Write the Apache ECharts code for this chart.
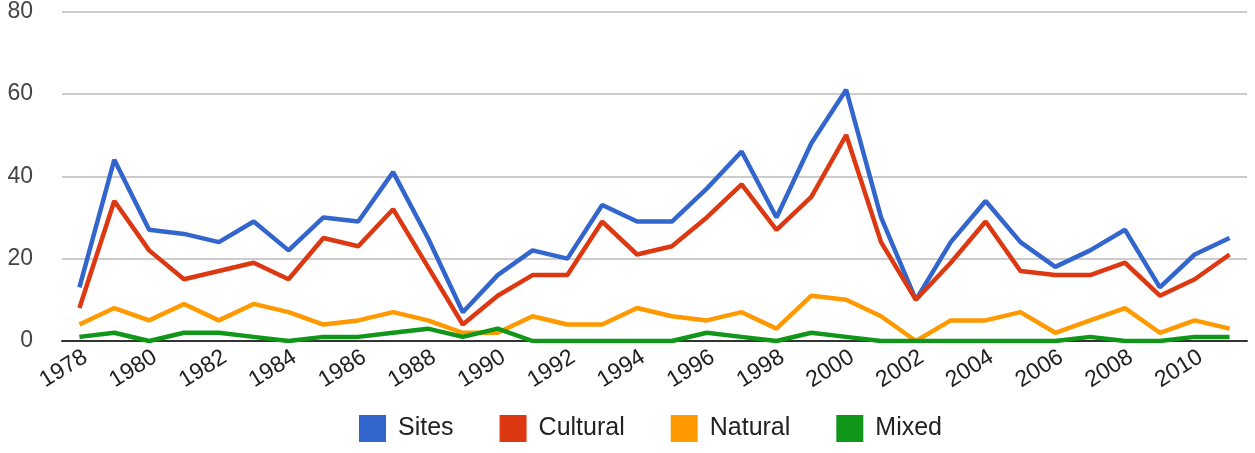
<!DOCTYPE html>
<html>
<head>
<meta charset="utf-8">
<style>
  html, body { margin: 0; padding: 0; background: #fff; }
  #chart { width: 1255px; height: 453px; }
</style>
<script src="https://cdn.jsdelivr.net/npm/echarts@6/dist/echarts.min.js"></script>
</head>
<body>
<div id="chart"></div>
<script>
const years = ['1978','1979','1980','1981','1982','1983','1984','1985','1986','1987','1988','1989','1990','1991','1992','1993','1994','1995','1996','1997','1998','1999','2000','2001','2002','2003','2004','2005','2006','2007','2008','2009','2010','2011'];
const sites    = [13,44,27,26,24,29,22,30,29,41,25,7,16,22,20,33,29,29,37,46,30,48,61,30,10,24,34,24,18,22,27,13,21,25];
const cultural = [8,34,22,15,17,19,15,25,23,32,18,4,11,16,16,29,21,23,30,38,27,35,50,24,10,19,29,17,16,16,19,11,15,21];
const natural  = [4,8,5,9,5,9,7,4,5,7,5,2,2,6,4,4,8,6,5,7,3,11,10,6,0,5,5,7,2,5,8,2,5,3];
const mixed    = [1,2,0,2,2,1,0,1,1,2,3,1,3,0,0,0,0,0,2,1,0,2,1,0,0,0,0,0,0,1,0,0,1,1];
const yTicks = [0, 20, 40, 60, 80];

const seriesDefs = [
  { name: 'Sites', data: sites, color: '#3366cc' },
  { name: 'Cultural', data: cultural, color: '#dc3912' },
  { name: 'Natural', data: natural, color: '#ff9900' },
  { name: 'Mixed', data: mixed, color: '#109618' }
];

const chart = echarts.init(document.getElementById('chart'), null, { renderer: 'canvas' });
chart.setOption({
  animation: false,
  backgroundColor: '#ffffff',
  textStyle: { fontFamily: 'Liberation Sans, Arial, sans-serif' },
  grid: { left: 62, right: 8, top: 9, bottom: 112, containLabel: false },
  legend: {
    left: 354,
    top: 410,
    itemWidth: 27,
    itemHeight: 27,
    itemGap: 46,
    icon: 'rect',
    textStyle: { fontSize: 25, color: '#222', padding: [0, 0, 0, 7], fontFamily: 'Liberation Sans, Arial, sans-serif' },
    data: seriesDefs.map(s => s.name)
  },
  xAxis: {
    type: 'category',
    data: years,
    boundaryGap: true,
    axisLine: { show: true, lineStyle: { color: '#333', width: 2 } },
    axisTick: { show: false },
    axisLabel: {
      interval: 1,
      rotate: 32,
      fontSize: 23,
      color: '#222',
      margin: 18,
      padding: [0, -7, 0, 0],
      fontFamily: 'Liberation Sans, Arial, sans-serif'
    },
    splitLine: { show: false }
  },
  yAxis: {
    type: 'value',
    min: yTicks[0],
    max: yTicks[yTicks.length - 1],
    interval: 20,
    axisLine: { show: false },
    axisTick: { show: false },
    axisLabel: { fontSize: 23, color: '#444', margin: 29, fontFamily: 'Liberation Sans, Arial, sans-serif' },
    splitLine: { show: true, lineStyle: { color: '#cccccc', width: 2 } }
  },
  series: seriesDefs.map(s => ({
    name: s.name,
    type: 'line',
    data: s.data,
    showSymbol: false,
    symbol: 'none',
    itemStyle: { color: s.color },
    lineStyle: { color: s.color, width: 4.5 }
  }))
});
</script>
</body>
</html>
